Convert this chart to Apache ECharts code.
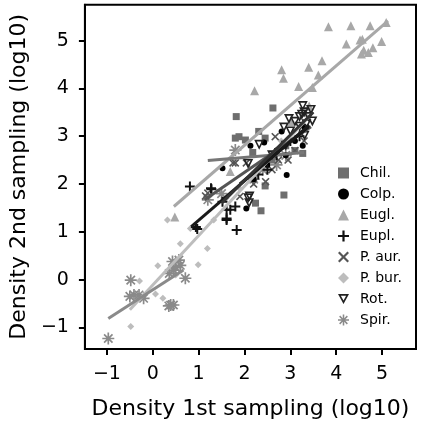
<!DOCTYPE html>
<html><head><meta charset="utf-8">
<script src="https://cdn.jsdelivr.net/npm/echarts@6/dist/echarts.min.js"></script>
<style>html,body{margin:0;padding:0;background:#fff}#c{width:423px;height:428px}</style>
</head><body><div id="c"></div>
<script>
const names = ['Chil.','Colp.','Eugl.','Eupl.','P. aur.','P. bur.','Rot.','Spir.'];
const ticks = [-1,0,1,2,3,4,5];
const chil = [[1.82,3.41],[2.62,3.59],[1.80,2.96],[1.88,2.99],[2.02,2.92],[2.31,3.10],[2.45,2.96],[2.18,2.66],[3.27,2.64],[2.45,1.96],[2.86,1.77],[2.24,1.60],[2.36,1.44],[2.6,2.5],[2.9,2.8],[3.1,2.7]];
const colp = [[1.52,2.33],[2.13,2.80],[2.43,2.87],[3.27,2.80],[2.92,2.19],[2.04,1.49],[2.81,3.10],[2.5,2.4],[2.9,2.6],[3.1,2.9],[2.7,2.7],[3.3,3.2],[2.2,2.1]];
const eugl = [[3.83,5.29],[4.32,5.31],[4.22,4.93],[4.52,5.01],[3.69,4.58],[3.40,4.44],[3.61,4.28],[2.81,4.39],[2.85,4.21],[3.18,4.04],[3.48,4.02],[2.22,3.95],[3.41,3.63],[4.74,5.31],[5.09,5.38],[4.57,5.03],[4.99,4.98],[4.6,4.8],[4.7,4.75],[4.55,4.72],[4.8,4.85],[0.48,1.31],[1.69,2.26],[3.0,3.3],[3.3,3.5]];
const eupl = [[0.81,1.95],[1.28,1.89],[0.97,1.06],[1.61,1.25],[1.83,1.04],[1.52,1.63],[1.69,1.46],[1.80,1.53],[1.27,1.91],[1.61,1.46],[1.61,1.28],[0.94,1.10],[2.3,2.2],[2.7,2.6],[3.0,2.9],[3.2,3.0],[2.5,2.3]];
const paur = [[1.75,2.44],[2.04,2.44],[2.67,2.99],[2.95,2.50],[1.2,1.81],[1.15,1.75],[1.80,2.44],[2.74,2.50],[2.46,2.05],[1.90,1.74],[2.2,2.0],[2.6,2.3],[3.1,2.7],[3.3,2.9]];
const pbur = [[0.32,1.25],[0.82,1.07],[1.33,1.25],[0.60,0.75],[1.19,0.65],[0.11,0.29],[0.99,0.31],[-0.29,-0.03],[0.06,-0.30],[0.22,-0.39],[-0.48,-0.98],[1.6,1.7],[1.9,1.9],[2.4,2.3],[2.8,2.9],[0.5,0.1]];
const rot = [[3.27,3.63],[2.97,3.36],[2.86,3.18],[2.32,2.82],[2.08,2.42],[3.31,3.01],[3.48,3.31],[2.08,1.70],[2.10,1.60],[2.11,1.74],[3.1,3.3],[3.2,3.4],[3.3,3.5],[3.4,3.4],[3.2,3.2],[3.35,3.25],[3.45,3.55],[3.0,3.1],[3.25,3.45],[2.6,2.6],[2.9,2.8]];
const spir = [[-0.48,-0.01],[-0.41,-0.32],[-0.5,-0.35],[-0.3,-0.32],[-0.2,-0.39],[0.39,-0.53],[0.45,-0.53],[0.35,-0.55],[0.43,0.38],[0.57,0.41],[0.36,0.13],[0.45,0.2],[0.5,0.25],[0.6,0.3],[0.71,0.03],[-0.97,-1.23],[1.2,1.67],[1.8,2.71],[2.4,2.3],[2.7,2.4],[2.9,2.6],[2.2,2.1],[1.5,1.8]];
const chilLine = [[1.2,2.49],[3.3,2.66]];
const colpLine = [[1.9,2.0],[3.4,3.2]];
const euglLine = [[0.46,1.53],[5.13,5.41]];
const euplLine = [[0.84,1.11],[3.41,3.23]];
const paurLine = [[1.13,1.67],[3.45,3.2]];
const pburLine = [[-0.5,-0.63],[3.4,3.4]];
const rotLine = [[1.5,1.6],[3.5,3.5]];
const spirLine = [[-0.97,-0.81],[0.67,0.2]];

const F = 'DejaVu Sans';
const plus = 'path://M4,0L6,0L6,4L10,4L10,6L6,6L6,10L4,10L4,6L0,6L0,4L4,4Z';
const cross = 'path://M1.4,0L5,3.6L8.6,0L10,1.4L6.4,5L10,8.6L8.6,10L5,6.4L1.4,10L0,8.6L3.6,5L0,1.4Z';
const star = 'path://M4.3,0L5.7,0L5.7,3.3L8.0,1L9,2L6.7,4.3L10,4.3L10,5.7L6.7,5.7L9,8L8,9L5.7,6.7L5.7,10L4.3,10L4.3,6.7L2,9L1,8L3.3,5.7L0,5.7L0,4.3L3.3,4.3L1,2L2,1L4.3,3.3Z';
const openTri = 'path://M0,0L10,0L5,9Z M2.6,1.5L5,5.8L7.4,1.5Z';

const sty = {
  'Chil.': {sym:'rect', size:7, color:'#6e6e6e', data:chil, line:chilLine, lc:'#777'},
  'Colp.': {sym:'circle', size:6, color:'#000', data:colp, line:colpLine, lc:'#111'},
  'Eugl.': {sym:'triangle', size:9, color:'#a8a8a8', data:eugl, line:euglLine, lc:'#a8a8a8'},
  'Eupl.': {sym:plus, size:10, color:'#111', data:eupl, line:euplLine, lc:'#1a1a1a'},
  'P. aur.': {sym:cross, size:8, color:'#555', data:paur, line:paurLine, lc:'#555'},
  'P. bur.': {sym:'diamond', size:7, color:'#bdbdbd', data:pbur, line:pburLine, lc:'#bdbdbd'},
  'Rot.': {sym:openTri, size:10, color:'#222', data:rot, line:rotLine, lc:'#333'},
  'Spir.': {sym:star, size:12, color:'#8a8a8a', data:spir, line:spirLine, lc:'#8a8a8a'}
};
const order = ['Eugl.','P. bur.','Spir.','Chil.','P. aur.','Colp.','Eupl.','Rot.'];
const series = [];
order.forEach(n => {
  const s = sty[n];
  series.push({type:'scatter', name:n, data:s.data, symbol:s.sym, symbolSize:s.size,
    itemStyle:{color:s.color, opacity:1}, z:2, emphasis:{disabled:true}});
});
order.forEach(n => {
  const s = sty[n];
  series.push({type:'line', name:n+'_fit', data:s.line, symbol:'none', z:3,
    lineStyle:{color:s.lc, width:3}, emphasis:{disabled:true}});
});
const legendSizes = {'Chil.':9,'Colp.':8,'Eugl.':10,'Eupl.':11,'P. aur.':9,'P. bur.':8,'Rot.':11,'Spir.':12};
const fmt = v => String(v).replace('-', '\u2212');
const chart = echarts.init(document.getElementById('c'), null, {renderer:'canvas'});
chart.setOption({
  animation:false,
  backgroundColor:'#fff',
  grid:{left:72.7, right:7, top:4.7, bottom:79, show:true, borderColor:'#000', borderWidth:2, backgroundColor:'transparent'},
  legend:{orient:'vertical', left:333, top:161, itemWidth:11, itemHeight:11, itemGap:7,
    data:names.map(n => ({name:n, icon:sty[n].sym, itemStyle:{color:sty[n].color}})),
    textStyle:{fontFamily:F, fontSize:14, color:'#000', lineHeight:14, padding:[0,0,0,6]}},
  xAxis:{type:'value', min:-1.48, max:5.74,
    name:'Density 1st sampling (log10)', nameLocation:'middle', nameGap:49,
    nameTextStyle:{fontFamily:F, fontSize:22, color:'#000'},
    splitLine:{show:false},
    axisLine:{show:true, onZero:false, lineStyle:{color:'#000', width:2}},
    axisTick:{show:true, customValues:ticks, length:6, lineStyle:{color:'#000', width:2}},
    axisLabel:{customValues:ticks, formatter:fmt, margin:16, fontFamily:F, fontSize:19, color:'#000'}},
  yAxis:{type:'value', min:-1.45, max:5.75,
    name:'Density 2nd sampling (log10)', nameLocation:'middle', nameGap:46,
    nameTextStyle:{fontFamily:F, fontSize:22, color:'#000'},
    splitLine:{show:false},
    axisLine:{show:true, onZero:false, lineStyle:{color:'#000', width:2}},
    axisTick:{show:true, customValues:ticks, length:6, lineStyle:{color:'#000', width:2}},
    axisLabel:{customValues:ticks, formatter:fmt, margin:16, fontFamily:F, fontSize:19, color:'#000'}},
  series:series
});
</script></body></html>
